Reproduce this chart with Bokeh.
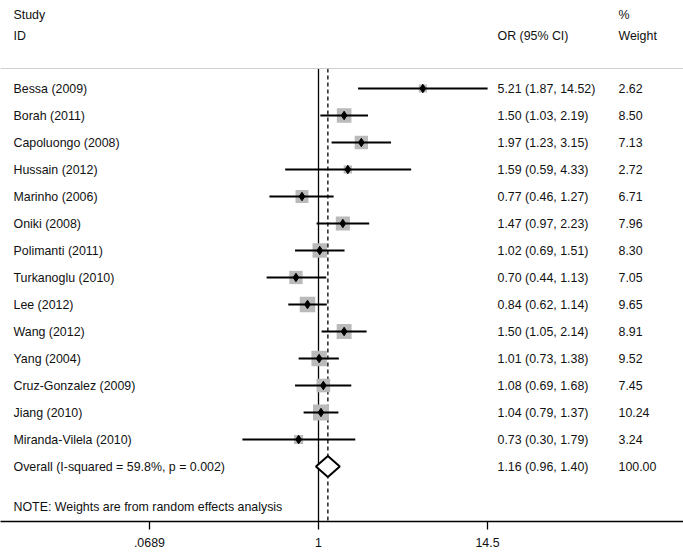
import numpy as np
from bokeh.plotting import figure
from bokeh.models import ColumnDataSource, LabelSet, Label, Range1d, FixedTicker, Span
from bokeh.core.properties import value
from bokeh.embed import file_html
from bokeh.resources import INLINE

# ---------------- data ----------------
studies = ["Bessa (2009)", "Borah (2011)", "Capoluongo (2008)", "Hussain (2012)",
           "Marinho (2006)", "Oniki (2008)", "Polimanti (2011)", "Turkanoglu (2010)",
           "Lee (2012)", "Wang (2012)", "Yang (2004)", "Cruz-Gonzalez (2009)",
           "Jiang (2010)", "Miranda-Vilela (2010)"]
or_vals = [5.21, 1.50, 1.97, 1.59, 0.77, 1.47, 1.02, 0.70, 0.84, 1.50, 1.01, 1.08, 1.04, 0.73]
ci_low = [1.87, 1.03, 1.23, 0.59, 0.46, 0.97, 0.69, 0.44, 0.62, 1.05, 0.73, 0.69, 0.79, 0.30]
ci_high = [14.52, 2.19, 3.15, 4.33, 1.27, 2.23, 1.51, 1.13, 1.14, 2.14, 1.38, 1.68, 1.37, 1.79]
weights = [2.62, 8.50, 7.13, 2.72, 6.71, 7.96, 8.30, 7.05, 9.65, 8.91, 9.52, 7.45, 10.24, 3.24]

overall_label = "Overall  (I-squared = 59.8%, p = 0.002)"
overall_or = 1.16
overall_low = 0.96
overall_high = 1.40
overall_weight = 100.00

null_value = 1
tick_values = [0.0689, 1, 14.5]
tick_labels = [".0689", "1", "14.5"]
note = "NOTE: Weights are from random effects analysis"

# ---------------- layout ----------------
W, H = 683, 552
frame_h = 521
px_per_ln = 63.2
x_null_px = 318
x_start = np.exp(-x_null_px / px_per_ln)
x_end = np.exp((W - x_null_px) / px_per_ln)
row_px = 27.0
row0_px = 88.0
y_top = row0_px / row_px
y_bottom = -(frame_h - row0_px) / row_px

FONT = "Liberation Sans"
TXT = "#111111"
FS = "12.4px"

p = figure(width=W, height=H, x_axis_type="log", output_backend="svg",
           toolbar_location=None, y_axis_location=None,
           x_range=Range1d(x_start, x_end), y_range=Range1d(y_bottom, y_top),
           min_border_left=0, min_border_right=0, min_border_top=0,
           min_border_bottom=H - frame_h)
p.outline_line_color = None
p.grid.visible = False
p.background_fill_color = "white"
p.border_fill_color = "white"

n = len(studies)
ys = [-i for i in range(n)]
y_overall = -n

src = ColumnDataSource(dict(
    y=ys, orv=or_vals, lo=ci_low, hi=ci_high,
    sz=[5.0 * np.sqrt(w) for w in weights],
))

# separator line under header
sep_y = (row0_px - 68) / row_px
p.add_layout(Span(location=sep_y, dimension="width", line_color="#cfcfcf", line_width=1))

# reference lines
p.segment(x0=[null_value], y0=[sep_y], x1=[null_value], y1=[y_bottom],
          line_color="black", line_width=1.3)
p.segment(x0=[overall_or], y0=[sep_y], x1=[overall_or], y1=[y_bottom],
          line_color="black", line_width=1.3, line_dash="4 3")

# weight squares
p.scatter(x="orv", y="y", size="sz", marker="square", source=src,
          fill_color="#bababa", line_color=None)
# CI lines
p.segment(x0="lo", y0="y", x1="hi", y1="y", source=src, line_color="black", line_width=2)
# point estimates
p.scatter(x="orv", y="y", size=8.5, marker="diamond", source=src,
          fill_color="black", line_color="black")

# overall diamond
dh = 0.39
p.patch(x=[overall_low, overall_or, overall_high, overall_or],
        y=[y_overall, y_overall + dh, y_overall, y_overall - dh],
        fill_color="white", line_color="black", line_width=2)

# text columns
names = studies + [overall_label]
ci_txt = [f"{o:.2f} ({l:.2f}, {h:.2f})" for o, l, h in zip(or_vals, ci_low, ci_high)]
ci_txt.append(f"{overall_or:.2f} ({overall_low:.2f}, {overall_high:.2f})")
w_txt = [f"{w:.2f}" for w in weights] + [f"{overall_weight:.2f}"]
rows = ys + [y_overall]

name_x, ci_x, w_x = 13, 497, 618
tsrc = ColumnDataSource(dict(
    y=rows, name=names, ci=ci_txt, w=w_txt,
    nx=[name_x] * len(rows), cx=[ci_x] * len(rows), wx=[w_x] * len(rows),
))
for col, xcol in (("name", "nx"), ("ci", "cx"), ("w", "wx")):
    p.add_layout(LabelSet(x=xcol, y="y", text=col, source=tsrc, x_units="screen",
                          text_font=value(FONT), text_font_size=value(FS),
                          text_color=value(TXT),
                          text_baseline="middle", text_align="left"))

# headers
def hdr(txt, xpx, ypage):
    yrow = -(ypage - row0_px) / row_px
    p.add_layout(Label(x=xpx, y=yrow, x_units="screen", text=txt,
                       text_font=FONT, text_font_size=FS, text_color=TXT,
                       text_baseline="middle", text_align="left"))

hdr("Study", name_x, 14)
hdr("ID", name_x, 35)
hdr("%", w_x, 14)
hdr("Weight", w_x, 35)
hdr("OR (95% CI)", ci_x, 35)
hdr(note, name_x, 506)

# x axis
ax = p.xaxis[0]
ax.ticker = FixedTicker(ticks=tick_values, minor_ticks=[])
ax.major_label_overrides = {v: l for v, l in zip(tick_values, tick_labels)}
ax.axis_line_color = "black"
ax.axis_line_width = 1.3
ax.major_tick_line_color = "black"
ax.major_tick_line_width = 1.3
ax.major_tick_out = 8
ax.major_tick_in = 0
ax.minor_tick_line_color = None
ax.major_label_text_font = FONT
ax.major_label_text_font_size = FS
ax.major_label_text_color = TXT
ax.major_label_standoff = 8

open("out.html", "w").write(file_html(p, INLINE))
